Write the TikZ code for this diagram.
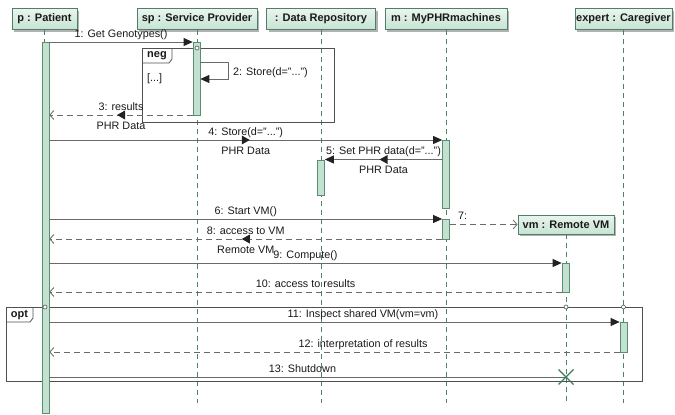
\documentclass[tikz,border=0pt]{standalone}
\usepackage{fontspec}
\setmainfont{Liberation Sans}
\usetikzlibrary{arrows.meta,shadows,calc}
\definecolor{hdrline}{HTML}{4F7F68}
\definecolor{hdrtop}{HTML}{EAF5EF}
\definecolor{hdrbot}{HTML}{C6E3D2}
\definecolor{actfill}{HTML}{C2E2CF}
\definecolor{actline}{HTML}{5C8C74}
\definecolor{lifec}{HTML}{4F8069}
\definecolor{msgc}{HTML}{6A6A6A}
\definecolor{arrowc}{HTML}{222222}
\definecolor{framec}{HTML}{505050}
\definecolor{txt}{HTML}{1A1A1A}
\definecolor{xc}{HTML}{3D7A5F}
\newcommand\lbfont{\fontsize{10.8}{12}\selectfont}
\newcommand\hdfont{\fontsize{11}{13}\selectfont\bfseries}
\newcommand\flowL[1]{\fill[arrowc] ([xshift=-4pt]#1) -- ([xshift=4pt,yshift=4.5pt]#1) -- ([xshift=4pt,yshift=-4.5pt]#1) -- cycle;}
\newcommand\flowR[1]{\fill[arrowc] ([xshift=4pt]#1) -- ([xshift=-4pt,yshift=4.5pt]#1) -- ([xshift=-4pt,yshift=-4.5pt]#1) -- cycle;}
\begin{document}
\begin{tikzpicture}[x=1pt,y=-1pt,
 every node/.style={font=\lbfont, text=txt},
 hdr/.style={draw=hdrline, line width=0.8pt, top color=hdrtop, bottom color=hdrbot, font=\hdfont, minimum height=21pt, inner sep=0pt, drop shadow={shadow xshift=2pt, shadow yshift=-2pt, fill=black!30, opacity=1}},
 lifeline/.style={draw=lifec, line width=0.8pt, dash pattern=on 5pt off 4pt},
 act/.style={draw=actline, fill=actfill, line width=0.7pt, minimum width=7pt, inner sep=0pt, anchor=north},
 msg/.style={draw=msgc, line width=0.8pt, -{Triangle[length=9pt,width=8pt,color=arrowc]}},
 ret/.style={draw=msgc, line width=0.8pt, dash pattern=on 6pt off 4pt, -{Straight Barb[length=4pt,width=9pt,color=msgc]}},
 lbl/.style={anchor=base, yshift=5pt, inner sep=0pt},
 sub/.style={anchor=base, yshift=-14pt, inner sep=0pt},
 frame/.style={draw=framec, line width=0.8pt},
 cover/.style={draw=framec, fill=white, line width=0.6pt},
 tag/.style={font=\hdfont, inner sep=0pt}
]
\useasboundingbox (0,0) rectangle (675,415);
\fill[white] (0,0) rectangle (675,415);
\coordinate (bot) at (0,403);

% headers
\node[hdr, minimum width=65pt] (p) at (44.5,19) {p : Patient};
\node[hdr, minimum width=120pt] (sp) at (197,19) {sp : Service Provider};
\node[hdr, minimum width=109pt] (dr) at (321,19) {: Data Repository};
\node[hdr, minimum width=122pt] (m) at (446,19) {m : MyPHRmachines};
\node[hdr, minimum width=97pt] (ex) at (623.5,19) {expert : Caregiver};
\node[hdr, minimum width=96pt, minimum height=19pt] (vm) at (566,224.5) {vm : Remote VM};

% lifelines
\draw[lifeline] (p.south) -- (p.south |- bot);
\draw[lifeline] (sp.south) -- (sp.south |- bot);
\draw[lifeline] (dr.south) -- (dr.south |- bot);
\draw[lifeline] (m.south) -- (m.south |- bot);
\draw[lifeline] (ex.south) -- (ex.south |- bot);
\draw[lifeline] (vm.south) -- (vm.south |- bot);

% neg fragment
\draw[frame] (142,48) rectangle (334,122);
\draw[frame] (142,63) -- (169,63) -- (172,59) -- (172,48);
\node[tag] (negt) at (157,56) {neg};
\node[anchor=base west, inner sep=0pt] (negg) at (147,81) {[...]};

% opt fragment
\draw[frame] (6,307) rectangle (642,381);
\draw[frame] (6,322) -- (30,322) -- (33,318) -- (33,307);
\node[tag] (optt) at (19.5,315) {opt};

% activations
\node[act, minimum height=371pt] (pa) at (45.5,42) {};
\node[act, minimum height=73pt] (spa) at (196.5,42) {};
\node[act, minimum height=68pt] (ma1) at (446,140) {};
\node[act, minimum height=35pt] (dra) at (321,159.5) {};
\node[act, minimum height=20pt] (ma2) at (446,219) {};
\node[act, minimum height=29pt] (vma) at (565.5,263) {};
\node[act, minimum height=30pt] (exa) at (623.5,322) {};

% covered-lifeline markers
\draw[cover] (197,48) circle (2);
\draw[cover] (45,307) circle (2);
\draw[cover] (566,307) circle (2);
\draw[cover] (623.5,307) circle (2);

% message endpoints
\coordinate (a1) at (pa.east |- 0,42);   \coordinate (b1) at (spa.west |- 0,42);
\coordinate (a3) at (spa.west |- 0,115); \coordinate (b3) at (pa.east |- 0,115);
\coordinate (a4) at (pa.east |- 0,140);  \coordinate (b4) at (ma1.west |- 0,140);
\coordinate (a5) at (ma1.west |- 0,159.5); \coordinate (b5) at (dra.east |- 0,159.5);
\coordinate (a6) at (pa.east |- 0,219);  \coordinate (b6) at (ma2.west |- 0,219);
\coordinate (a7) at (ma2.east |- 0,224.5);
\coordinate (a8) at (ma2.west |- 0,239); \coordinate (b8) at (pa.east |- 0,239);
\coordinate (a9) at (pa.east |- 0,263);  \coordinate (b9) at (vma.west |- 0,263);
\coordinate (a10) at (vma.west |- 0,292); \coordinate (b10) at (pa.east |- 0,292);
\coordinate (a11) at (pa.east |- 0,322); \coordinate (b11) at (exa.west |- 0,322);
\coordinate (a12) at (exa.west |- 0,352); \coordinate (b12) at (pa.east |- 0,352);
\coordinate (a13) at (pa.east |- 0,377); \coordinate (x13) at (566,377);

% messages
\draw[msg] (a1) -- node[lbl] {1: Get Genotypes()} (b1);
\draw[msg] (spa.east |- 0,62) -- ++(28,0) -- ++(0,17) -- (spa.east |- 0,79);
\node[anchor=base west, inner sep=0pt] (l2) at (233,75) {2: Store(d="...")};
\draw[ret] (a3) -- node[lbl] {3: results} node[sub] {PHR Data} coordinate[midway] (f3) (b3);
\flowL{f3}
\draw[msg] (a4) -- node[lbl] {4: Store(d="...")} node[sub] {PHR Data} coordinate[midway] (f4) (b4);
\flowR{f4}
\draw[msg] (a5) -- node[lbl] {5: Set PHR data(d="...")} node[sub] {PHR Data} coordinate[midway] (f5) (b5);
\flowL{f5}
\draw[msg] (a6) -- node[lbl] {6: Start VM()} (b6);
\draw[ret] (a7) -- (vm.west);
\node[anchor=base west, inner sep=0pt] (l7) at (458,219) {7:};
\draw[ret] (a8) -- node[lbl] {8: access to VM} node[sub] {Remote VM} coordinate[midway] (f8) (b8);
\flowL{f8}
\draw[msg] (a9) -- node[lbl] {9: Compute()} (b9);
\draw[ret] (a10) -- node[lbl] {10: access to results} (b10);
\draw[msg] (a11) -- node[lbl, pos=0.55] {11: Inspect shared VM(vm=vm)} (b11);
\draw[ret] (a12) -- node[lbl, pos=0.45] {12: interpretation of results} (b12);
\draw[draw=msgc, line width=0.8pt] (a13) -- node[lbl, pos=0.49] {13: Shutdown} (x13);
\draw[xc, line width=1.2pt] (x13) +(-7.5,-7.5) -- +(7.5,7.5) (x13) +(-7.5,7.5) -- +(7.5,-7.5);
\end{tikzpicture}
\end{document}
